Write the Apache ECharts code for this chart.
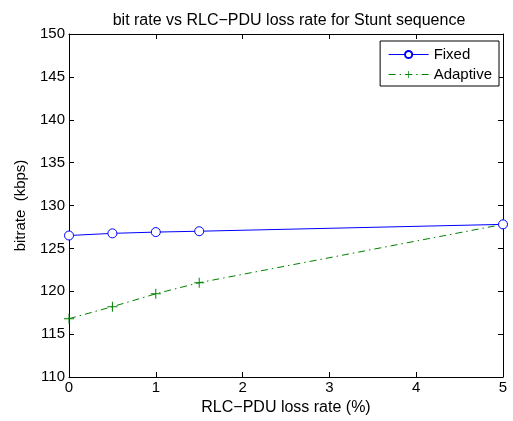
<!DOCTYPE html>
<html>
<head>
<meta charset="utf-8">
<script src="https://cdn.jsdelivr.net/npm/echarts@6/dist/echarts.min.js"></script>
<style>
  html, body { margin: 0; padding: 0; background: #fff; }
  #chart { width: 513px; height: 421px; }
</style>
</head>
<body>
<div id="chart"></div>
<script>
var lossRate = [0, 0.5, 1, 1.5, 5]
var fixedRate = [126.5, 126.75, 126.9, 127.0, 127.8]
var adaptiveRate = [116.8, 118.2, 119.7, 121.0, 127.8]

var chart = echarts.init(document.getElementById('chart'))
var font = 'Liberation Sans, Arial, Helvetica, sans-serif'

function pairs(xs, ys) {
    return xs.map(function (x, i) { return [x, ys[i]] })
}

// plus marker made of two thin bars
var plusPath = 'path://M-0.1,-1H0.1V1H-0.1Z M-1,-0.1H1V0.1H-1Z'

var tickStyle = { show: true, inside: true, length: 5, lineStyle: { color: '#000', width: 1 } }
var lineStyle = { show: true, onZero: false, lineStyle: { color: '#000', width: 1 } }

var option = {
    backgroundColor: '#fff',
    animation: false,
    title: {
        text: 'bit rate vs RLC\u2212PDU loss rate for Stunt sequence',
        left: 284,
        textAlign: 'center',
        top: 8,
        textStyle: { fontFamily: font, fontSize: 16, fontWeight: 'normal', color: '#000' }
    },
    legend: {
        right: 14,
        top: 41,
        orient: 'vertical',
        backgroundColor: '#fff',
        borderColor: '#000',
        borderWidth: 1,
        borderRadius: 0,
        padding: [6, 7, 4, 8],
        itemWidth: 40,
        itemHeight: 9,
        itemGap: 5,
        lineStyle: { width: 1 },
        textStyle: { fontFamily: font, fontSize: 15, color: '#000' },
        data: ['Fixed', 'Adaptive']
    },
    grid: { left: 69, right: 10, top: 34, bottom: 44 },
    xAxis: [{
        type: 'value',
        min: 0, max: 5, interval: 1,
        name: 'RLC\u2212PDU loss rate (%)',
        nameLocation: 'middle',
        nameGap: 22,
        nameTextStyle: { fontFamily: font, fontSize: 16, color: '#000' },
        axisLine: lineStyle,
        axisTick: tickStyle,
        axisLabel: { fontFamily: font, fontSize: 15, color: '#000', margin: 3 },
        splitLine: { show: false }
    }, {
        type: 'value', position: 'top',
        min: 0, max: 5, interval: 1,
        axisLine: lineStyle,
        axisTick: tickStyle,
        axisLabel: { show: false },
        splitLine: { show: false }
    }],
    yAxis: [{
        type: 'value',
        min: 110, max: 150, interval: 5,
        name: 'bitrate  (kbps)',
        nameLocation: 'middle',
        nameGap: 41,
        nameTextStyle: { fontFamily: font, fontSize: 15, color: '#000' },
        axisLine: lineStyle,
        axisTick: tickStyle,
        axisLabel: { fontFamily: font, fontSize: 15, color: '#000', margin: 4 },
        splitLine: { show: false }
    }, {
        type: 'value', position: 'right',
        min: 110, max: 150, interval: 5,
        axisLine: lineStyle,
        axisTick: tickStyle,
        axisLabel: { show: false },
        splitLine: { show: false }
    }],
    series: [{
        name: 'Fixed',
        type: 'line',
        data: pairs(lossRate, fixedRate),
        symbol: 'circle',
        symbolSize: 9,
        showAllSymbol: true,
        lineStyle: { color: '#0000ff', width: 1 },
        itemStyle: { color: '#fff', borderColor: '#0000ff', borderWidth: 1 },
        z: 3
    }, {
        name: 'Adaptive',
        type: 'line',
        data: pairs(lossRate, adaptiveRate),
        symbol: plusPath,
        symbolSize: 10,
        showAllSymbol: true,
        lineStyle: { color: '#008000', width: 1, type: [7, 4, 1.5, 4] },
        itemStyle: { color: '#008000', borderWidth: 0 },
        z: 2
    }]
}

chart.setOption(option)
</script>
</body>
</html>
